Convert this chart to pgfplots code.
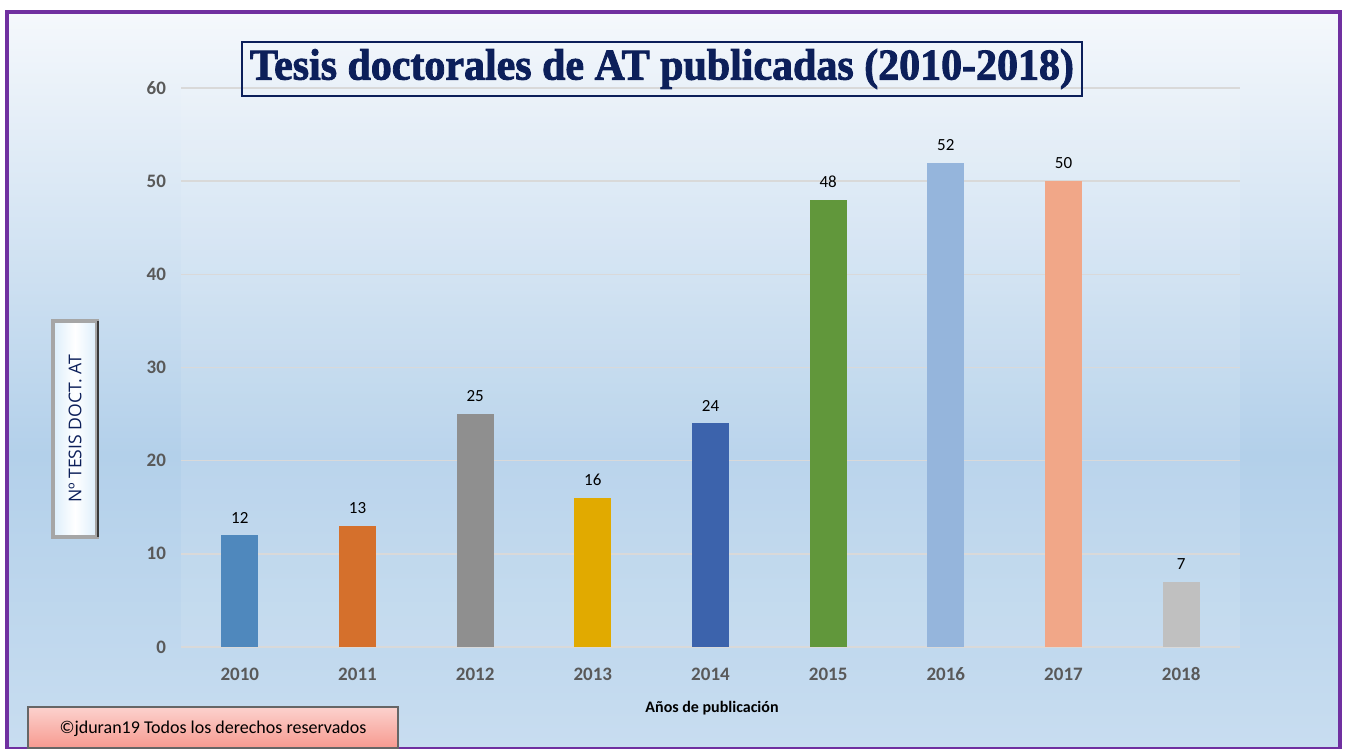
\documentclass[border=0pt]{standalone}
\usepackage{pgfplots}
\pgfplotsset{compat=1.18}
\usepackage{fontspec}
\setmainfont{Carlito}
\newfontfamily\titlefont[BoldFeatures={FakeBold=2}]{Liberation Serif}
\newfontfamily\boxfont{Open Sans}
\definecolor{framec}{HTML}{7030A0}
\definecolor{bgtop}{HTML}{F5F8FC}
\definecolor{bgmid}{HTML}{B3D0EA}
\definecolor{bgbot}{HTML}{C8DDF0}
\definecolor{navy}{HTML}{0C1F5A}
\definecolor{tickgray}{HTML}{595959}
\definecolor{gridc}{HTML}{D9D9D9}
\definecolor{c0}{HTML}{4F88BD}
\definecolor{c1}{HTML}{D5702C}
\definecolor{c2}{HTML}{8F8F8F}
\definecolor{c3}{HTML}{E1AA00}
\definecolor{c4}{HTML}{3C63AC}
\definecolor{c5}{HTML}{61973B}
\definecolor{c6}{HTML}{95B5DC}
\definecolor{c7}{HTML}{F1A788}
\definecolor{c8}{HTML}{C0C0C0}
\definecolor{salmon}{HTML}{F79A90}
\definecolor{boxblue}{HTML}{DCEEFB}
\pgfdeclareverticalshading{bgshade}{100bp}{color(0bp)=(bgbot); color(25bp)=(bgbot); color(45bp)=(bgmid); color(75bp)=(bgtop); color(100bp)=(bgtop)}
\begin{document}
\begin{tikzpicture}[x=0.5pt,y=0.5pt]
\path[use as bounding box] (0,0) rectangle (1346,749);
\fill[white] (0,0) rectangle (1346,749);
\path[shading=bgshade] (7,0) rectangle (1340,737);
\draw[framec, line width=2pt] (7,0) rectangle (1340,737);
\coordinate (A) at (181,102);
\begin{axis}[
  at={(A)}, anchor=south west, scale only axis,
  width=529.5pt, height=279.5pt,
  xmin=-0.5, xmax=8.5, ymin=0, ymax=60,
  xtick={0,...,8},
  xticklabels={2010,2011,2012,2013,2014,2015,2016,2017,2018},
  ytick={0,10,...,60},
  axis line style={draw=none},
  major tick length=0pt,
  ymajorgrids, grid style={gridc, line width=0.8pt},
  axis background/.style={fill=white, fill opacity=0.1},
  tick label style={font=\bfseries\fontsize{9.5}{10}\selectfont, text=tickgray},
  xticklabel style={yshift=-7pt, text height=1.3ex, text depth=0pt},
  yticklabel style={xshift=-4pt},
  /pgf/number format/assume math mode=true,
  nodes near coords,
  every node near coord/.append style={font=\fontsize{8.5}{9}\selectfont, text=black, yshift=2.5pt},
]
\addplot[ybar, bar width=18.5pt, bar shift=0pt, fill=c0, draw=none] coordinates {(0,12)};
\addplot[ybar, bar width=18.5pt, bar shift=0pt, fill=c1, draw=none] coordinates {(1,13)};
\addplot[ybar, bar width=18.5pt, bar shift=0pt, fill=c2, draw=none] coordinates {(2,25)};
\addplot[ybar, bar width=18.5pt, bar shift=0pt, fill=c3, draw=none] coordinates {(3,16)};
\addplot[ybar, bar width=18.5pt, bar shift=0pt, fill=c4, draw=none] coordinates {(4,24)};
\addplot[ybar, bar width=18.5pt, bar shift=0pt, fill=c5, draw=none] coordinates {(5,48)};
\addplot[ybar, bar width=18.5pt, bar shift=0pt, fill=c6, draw=none] coordinates {(6,52)};
\addplot[ybar, bar width=18.5pt, bar shift=0pt, fill=c7, draw=none] coordinates {(7,50)};
\addplot[ybar, bar width=18.5pt, bar shift=0pt, fill=c8, draw=none] coordinates {(8,7)};
\end{axis}
% title
\draw[navy, line width=0.9pt] (242,653) rectangle (1082,707);
\node[text=navy, inner sep=0pt] at (662,680)
  {\resizebox{412pt}{\height}{\titlefont\bfseries\fontsize{22}{24}\selectfont Tesis doctorales de AT publicadas (2010-2018)}};
% axis title
\node[font=\bfseries\fontsize{8}{9}\selectfont] at (712,41) {Años de publicación};
% y label box
\draw[gray!70, line width=2pt, left color=boxblue, right color=boxblue, middle color=white] (53,212) rectangle (97,428);
\draw[gray!45!black, line width=0.8pt] (98,212) -- (98,428);
\node[rotate=90, text=navy, font=\boxfont\fontsize{8.8}{10}\selectfont] at (75,320) {Nº TESIS DOCT. AT};
% copyright box
\draw[gray!80!black, line width=1pt, top color=salmon!45, bottom color=salmon] (28,1) rectangle (398,42);
\node[font=\fontsize{9}{10}\selectfont] at (213,20) {©jduran19 Todos los derechos reservados};
\end{tikzpicture}
\end{document}
